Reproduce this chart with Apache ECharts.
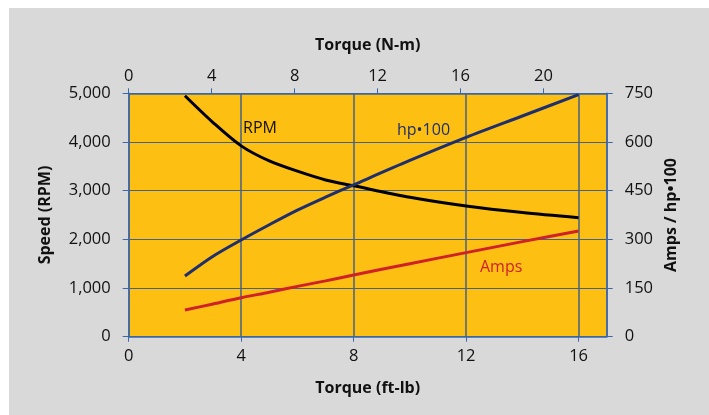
<!DOCTYPE html>
<html><head><meta charset="utf-8">
<script src="https://cdn.jsdelivr.net/npm/echarts@6/dist/echarts.min.js"></script>
<style>
html,body{margin:0;padding:0;background:#fff;}
#wrap{position:relative;width:709px;height:415px;background:#fff;overflow:hidden;}
#bg{position:absolute;left:9px;top:8px;width:700px;height:407px;background:#d9d9d9;}
#chart{position:absolute;left:0;top:0;width:709px;height:415px;}
</style></head>
<body><div id="wrap"><div id="bg"></div><div id="chart"></div></div>
<script>
// Torque (ft-lb) sample points
const torqueFtLb = [2, 3, 4, 5, 6, 7, 8, 10, 12, 14, 16];
// Speed (RPM)
const rpm = [4950, 4400, 3920, 3610, 3400, 3220, 3100, 2865, 2685, 2550, 2445];
// hp x 100
const hp100 = [187, 248, 298, 345, 390, 430, 468, 543, 614, 680, 746];
// Amps
const amps = [82, 101, 120, 137, 155, 172, 190, 225, 259, 293, 326];

const xMax = 17;            // ft-lb
const nmPerFtLb = 1.3558;   // conversion for the top axis

const font = 'Open Sans';
const chart = echarts.init(document.getElementById('chart'), null, {renderer: 'canvas'});

function pts(ys) { return torqueFtLb.map((x, i) => [x, ys[i]]); }

const axisBlue = '#3a68a8';
const gridCol = '#44628a';
const nameStyle = {fontFamily: font, fontWeight: 'bold', fontSize: 16, color: '#111'};
const lblStyle = {fontFamily: font, fontSize: 16.5, color: '#111'};

chart.setOption({
  animation: false,
  backgroundColor: 'transparent',
  grid: {left: 128.7, right: 102.3, top: 93.3, bottom: 78.3, show: true,
         backgroundColor: '#FCBF12', borderWidth: 0},
  xAxis: [
    {type: 'value', position: 'bottom', min: 0, max: xMax, interval: 4,
     name: 'Torque (ft-lb)', nameLocation: 'middle', nameGap: 44, nameTextStyle: nameStyle,
     axisLine: {show: true, onZero: false, lineStyle: {color: axisBlue, width: 1.5}},
     axisTick: {show: true, inside: false, length: 5, lineStyle: {color: axisBlue}},
     axisLabel: Object.assign({margin: 11, showMaxLabel: false}, lblStyle),
     splitLine: {show: true, lineStyle: {color: gridCol, width: 1.5}}},
    {type: 'value', position: 'top', min: 0, max: xMax * nmPerFtLb, interval: 4,
     name: 'Torque (N-m)', nameLocation: 'middle', nameGap: 40, nameTextStyle: nameStyle,
     axisLine: {show: true, onZero: false, lineStyle: {color: axisBlue, width: 1.5}},
     axisTick: {show: true, inside: false, length: 5, lineStyle: {color: axisBlue}},
     axisLabel: Object.assign({margin: 9}, lblStyle),
     splitLine: {show: false}}
  ],
  yAxis: [
    {type: 'value', position: 'left', min: 0, max: 5000, interval: 1000,
     name: 'Speed (RPM)', nameLocation: 'middle', nameGap: 75, nameTextStyle: nameStyle,
     axisLine: {show: true, onZero: false, lineStyle: {color: axisBlue, width: 1.5}},
     axisTick: {show: true, inside: false, length: 6, lineStyle: {color: axisBlue}},
     axisLabel: Object.assign({margin: 18, formatter: v => v.toLocaleString('en-US')}, lblStyle),
     splitLine: {show: true, lineStyle: {color: gridCol, width: 1}}},
    {type: 'value', position: 'right', min: 0, max: 750, interval: 150,
     name: 'Amps / hp•100', nameLocation: 'middle', nameGap: 57, nameRotate: 90,
     nameTextStyle: nameStyle,
     axisLine: {show: true, onZero: false, lineStyle: {color: axisBlue, width: 1.5}},
     axisTick: {show: true, inside: false, length: 6, lineStyle: {color: axisBlue}},
     axisLabel: Object.assign({margin: 18}, lblStyle),
     splitLine: {show: false}}
  ],
  series: [
    {name: 'RPM', type: 'line', xAxisIndex: 0, yAxisIndex: 0, data: pts(rpm),
     smooth: 0.3, showSymbol: false, lineStyle: {color: '#000', width: 3}},
    {name: 'hp•100', type: 'line', xAxisIndex: 0, yAxisIndex: 1, data: pts(hp100),
     smooth: 0.3, showSymbol: false, lineStyle: {color: '#1f2f6b', width: 3}},
    {name: 'Amps', type: 'line', xAxisIndex: 0, yAxisIndex: 1, data: pts(amps),
     smooth: 0.3, showSymbol: false, lineStyle: {color: '#d0202a', width: 3}}
  ],
  graphic: [
    {type: 'text', left: 243, top: 120, z: 100,
     style: {text: 'RPM', fontFamily: font, fontSize: 16, fill: '#111'}},
    {type: 'text', left: 397, top: 122, z: 100,
     style: {text: 'hp•100', fontFamily: font, fontSize: 16, fill: '#1f2f6b'}},
    {type: 'text', left: 480, top: 259, z: 100,
     style: {text: 'Amps', fontFamily: font, fontSize: 16, fill: '#d0202a'}}
  ]
});
</script></body></html>
